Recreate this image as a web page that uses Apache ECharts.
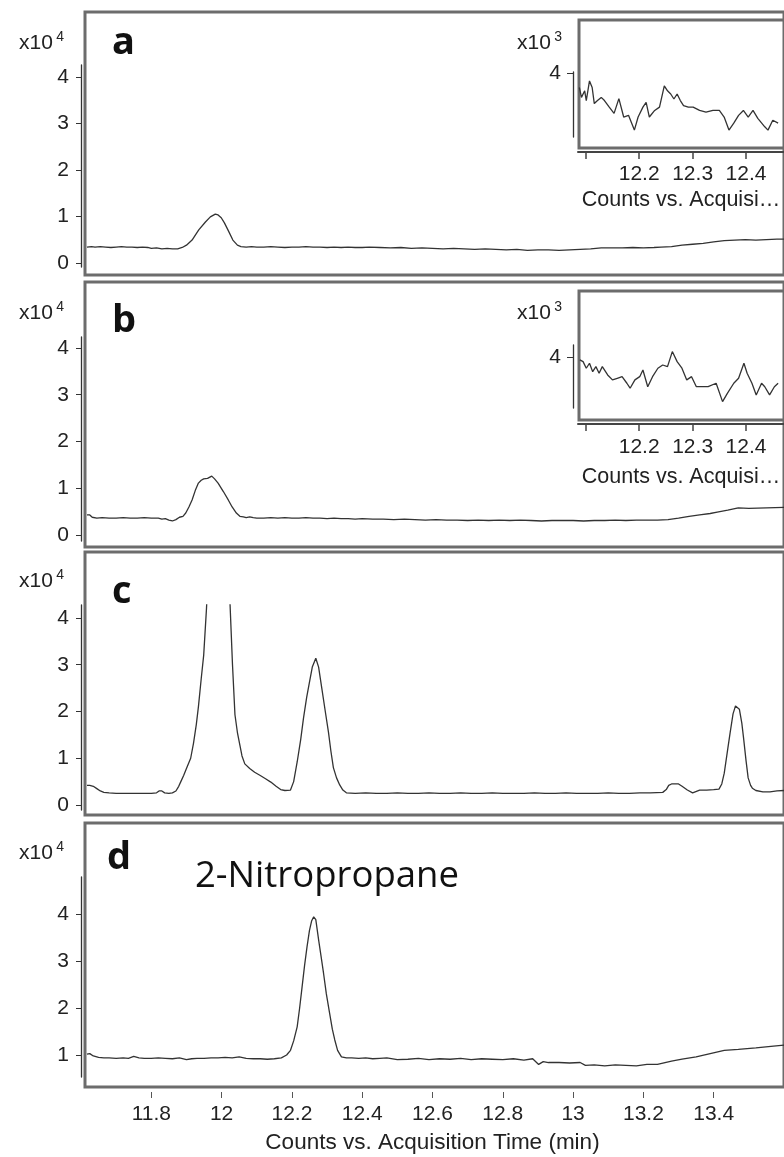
<!DOCTYPE html>
<html><head><meta charset="utf-8">
<script src="https://cdn.jsdelivr.net/npm/echarts@6/dist/echarts.min.js"></script>
<style>html,body{margin:0;padding:0;background:#fff}#c{width:784px;height:1157px}</style>
</head><body><div id="c"></div>
<script>
// ---------- data (counts in units of 10^4, inset counts in units of 10^3) ----------
const mainTicks = [11.8, 12, 12.2, 12.4, 12.6, 12.8, 13, 13.2, 13.4];
const yTicks = [0, 1, 2, 3, 4];
const yTicksD = [1, 2, 3, 4];
const insetTicks = [12.1, 12.2, 12.3, 12.4];
const insetLabels = [12.2, 12.3, 12.4];
const insetYTicks = [4];
const panelLetters = ['a', 'b', 'c', 'd'];
const compoundName = '2-Nitropropane';
const xTitle = 'Counts vs. Acquisition Time (min)';
const insetXTitle = 'Counts vs. Acquisi…';

const timeA = [11.617,11.63,11.64,11.655,11.67,11.685,11.70,11.715,11.73,11.745,11.76,11.775,11.79,11.80,11.815,11.83,11.845,11.86,11.875,11.888,11.90,11.916,11.935,11.954,11.968,11.982,11.99,11.999,12.008,12.018,12.032,12.045,12.055,12.07,12.085,12.10,12.12,12.14,12.16,12.18,12.20,12.22,12.24,12.26,12.28,12.30,12.32,12.34,12.36,12.38,12.40,12.42,12.45,12.48,12.51,12.54,12.57,12.60,12.63,12.66,12.69,12.72,12.75,12.78,12.81,12.84,12.87,12.90,12.93,12.96,12.99,13.02,13.05,13.08,13.11,13.14,13.17,13.20,13.23,13.25,13.28,13.31,13.34,13.37,13.40,13.43,13.46,13.49,13.52,13.55,13.58,13.60];
const countA = [0.34,0.35,0.34,0.35,0.34,0.33,0.34,0.35,0.34,0.34,0.33,0.34,0.33,0.31,0.32,0.30,0.31,0.30,0.30,0.33,0.38,0.49,0.71,0.88,0.99,1.05,1.03,0.97,0.86,0.71,0.49,0.38,0.35,0.34,0.35,0.34,0.34,0.35,0.34,0.33,0.34,0.34,0.35,0.34,0.34,0.33,0.34,0.33,0.34,0.33,0.33,0.34,0.33,0.32,0.33,0.31,0.32,0.31,0.30,0.31,0.30,0.29,0.30,0.29,0.28,0.29,0.27,0.28,0.28,0.27,0.28,0.29,0.30,0.32,0.32,0.32,0.33,0.32,0.33,0.34,0.35,0.38,0.40,0.42,0.45,0.48,0.49,0.50,0.49,0.50,0.51,0.51];

const timeB = [11.617,11.625,11.632,11.645,11.66,11.68,11.70,11.72,11.74,11.76,11.78,11.80,11.82,11.83,11.84,11.85,11.86,11.87,11.88,11.89,11.898,11.907,11.916,11.925,11.934,11.942,11.949,11.96,11.972,11.98,11.99,12.005,12.019,12.03,12.042,12.052,12.062,12.07,12.08,12.09,12.10,12.12,12.14,12.16,12.18,12.20,12.22,12.24,12.26,12.28,12.30,12.32,12.34,12.36,12.38,12.40,12.43,12.46,12.49,12.52,12.55,12.58,12.61,12.64,12.67,12.70,12.73,12.76,12.79,12.82,12.85,12.88,12.91,12.94,12.97,13.00,13.03,13.06,13.09,13.12,13.15,13.18,13.21,13.24,13.27,13.30,13.33,13.36,13.39,13.41,13.44,13.47,13.50,13.55,13.60];
const countB = [0.43,0.43,0.38,0.36,0.37,0.36,0.36,0.37,0.36,0.36,0.37,0.36,0.36,0.34,0.35,0.32,0.30,0.33,0.38,0.40,0.47,0.60,0.75,0.95,1.11,1.17,1.20,1.21,1.26,1.20,1.11,0.93,0.75,0.60,0.47,0.40,0.39,0.37,0.39,0.37,0.36,0.36,0.37,0.36,0.37,0.36,0.36,0.37,0.36,0.36,0.35,0.36,0.35,0.35,0.34,0.35,0.34,0.34,0.33,0.34,0.33,0.32,0.33,0.32,0.32,0.31,0.32,0.31,0.32,0.31,0.32,0.31,0.30,0.31,0.31,0.31,0.30,0.31,0.31,0.32,0.31,0.32,0.32,0.32,0.33,0.36,0.40,0.43,0.46,0.49,0.53,0.58,0.57,0.58,0.59];

const timeC = [11.617,11.625,11.635,11.645,11.655,11.665,11.68,11.70,11.72,11.74,11.76,11.78,11.80,11.815,11.822,11.83,11.838,11.85,11.86,11.87,11.878,11.884,11.892,11.90,11.912,11.92,11.928,11.934,11.942,11.949,11.957,11.965,11.98,11.995,12.01,12.024,12.031,12.038,12.045,12.052,12.058,12.066,12.08,12.094,12.11,12.125,12.14,12.155,12.168,12.18,12.196,12.205,12.215,12.225,12.233,12.242,12.25,12.258,12.268,12.276,12.285,12.295,12.304,12.311,12.318,12.327,12.336,12.345,12.355,12.38,12.41,12.44,12.47,12.50,12.53,12.56,12.59,12.62,12.65,12.68,12.71,12.74,12.77,12.80,12.83,12.86,12.89,12.92,12.95,12.98,13.01,13.04,13.07,13.10,13.13,13.16,13.19,13.22,13.255,13.265,13.272,13.28,13.30,13.31,13.325,13.34,13.345,13.36,13.38,13.40,13.415,13.423,13.43,13.44,13.447,13.455,13.462,13.467,13.473,13.48,13.485,13.492,13.498,13.505,13.51,13.52,13.54,13.56,13.58,13.60];
const countC = [0.42,0.42,0.40,0.35,0.30,0.27,0.26,0.25,0.25,0.25,0.25,0.25,0.25,0.26,0.30,0.30,0.26,0.25,0.26,0.30,0.40,0.50,0.63,0.78,1.00,1.32,1.72,2.10,2.70,3.20,4.20,5.50,6.50,6.60,5.80,4.30,3.00,1.93,1.55,1.28,1.05,0.88,0.78,0.70,0.63,0.56,0.49,0.40,0.33,0.31,0.32,0.50,0.92,1.40,1.86,2.30,2.63,2.95,3.14,2.95,2.50,2.00,1.56,1.15,0.80,0.58,0.43,0.32,0.26,0.25,0.26,0.25,0.25,0.26,0.25,0.25,0.26,0.25,0.25,0.26,0.25,0.25,0.26,0.25,0.25,0.25,0.26,0.25,0.25,0.26,0.25,0.25,0.25,0.26,0.25,0.25,0.26,0.26,0.27,0.33,0.42,0.45,0.45,0.40,0.32,0.26,0.30,0.32,0.32,0.33,0.34,0.45,0.68,1.20,1.56,1.95,2.12,2.14,2.05,1.75,1.43,0.95,0.58,0.42,0.36,0.31,0.28,0.28,0.30,0.31];

const timeD = [11.617,11.625,11.635,11.65,11.665,11.68,11.70,11.72,11.735,11.75,11.765,11.78,11.80,11.82,11.84,11.86,11.88,11.90,11.915,11.93,11.95,11.97,11.99,12.01,12.03,12.05,12.07,12.09,12.11,12.13,12.15,12.17,12.185,12.196,12.205,12.215,12.222,12.229,12.236,12.243,12.25,12.256,12.262,12.268,12.276,12.283,12.29,12.298,12.307,12.315,12.322,12.33,12.341,12.355,12.37,12.39,12.41,12.43,12.45,12.47,12.50,12.53,12.56,12.59,12.62,12.65,12.68,12.71,12.74,12.77,12.80,12.83,12.86,12.885,12.902,12.915,12.93,12.96,12.99,13.02,13.035,13.06,13.09,13.12,13.15,13.18,13.21,13.24,13.28,13.31,13.35,13.39,13.43,13.47,13.52,13.57,13.60];
const countD = [1.02,1.03,0.98,0.95,0.94,0.94,0.93,0.94,0.93,0.97,0.94,0.93,0.93,0.94,0.93,0.92,0.94,0.90,0.92,0.93,0.93,0.94,0.94,0.95,0.94,0.96,0.93,0.92,0.92,0.91,0.92,0.94,1.00,1.10,1.30,1.60,2.00,2.45,2.90,3.30,3.65,3.85,3.94,3.88,3.45,3.10,2.74,2.30,1.90,1.55,1.32,1.10,0.96,0.94,0.94,0.93,0.94,0.92,0.93,0.94,0.90,0.91,0.93,0.90,0.92,0.91,0.93,0.90,0.92,0.91,0.90,0.92,0.89,0.92,0.80,0.86,0.84,0.84,0.83,0.84,0.78,0.79,0.77,0.79,0.78,0.77,0.80,0.80,0.87,0.91,0.96,1.03,1.10,1.12,1.15,1.19,1.21];

const insetTimeA = [12.088,12.092,12.098,12.101,12.107,12.112,12.116,12.122,12.129,12.135,12.144,12.153,12.162,12.171,12.180,12.191,12.198,12.207,12.213,12.219,12.229,12.238,12.247,12.253,12.259,12.265,12.271,12.277,12.283,12.292,12.301,12.313,12.325,12.338,12.350,12.359,12.368,12.377,12.386,12.395,12.404,12.413,12.422,12.435,12.441,12.450,12.460];
const insetCountA = [3.864,3.771,3.833,3.741,3.926,3.864,3.713,3.741,3.771,3.741,3.679,3.620,3.759,3.586,3.602,3.463,3.586,3.679,3.725,3.586,3.648,3.679,3.880,3.833,3.803,3.756,3.803,3.741,3.694,3.679,3.679,3.648,3.632,3.648,3.648,3.586,3.463,3.528,3.602,3.648,3.586,3.648,3.574,3.494,3.463,3.556,3.528];

const insetTimeB = [12.089,12.095,12.101,12.107,12.113,12.119,12.125,12.131,12.141,12.150,12.159,12.168,12.177,12.183,12.192,12.201,12.207,12.216,12.225,12.235,12.244,12.253,12.262,12.271,12.280,12.289,12.298,12.307,12.316,12.329,12.344,12.356,12.365,12.377,12.386,12.396,12.402,12.411,12.419,12.429,12.435,12.444,12.453,12.460];
const insetCountB = [3.979,3.963,3.902,3.948,3.870,3.917,3.856,3.917,3.840,3.794,3.809,3.824,3.763,3.717,3.794,3.824,3.886,3.731,3.824,3.902,3.932,3.917,4.056,3.963,3.902,3.794,3.824,3.731,3.731,3.731,3.763,3.593,3.670,3.763,3.809,3.948,3.856,3.763,3.655,3.763,3.731,3.655,3.731,3.763];

// ---------- layout / style ----------
const FONT = '"Liberation Sans", Arial, sans-serif';
const TXT = '#222';
const LINE = '#333';
const FRAME = '#6c6c6c';
const zip = (t, v) => t.map((x, i) => [x, v[i]]);

const mainFrames = [{top: 12, height: 263}, {top: 282, height: 265}, {top: 552, height: 263}, {top: 823, height: 264}];
const mainData = [
  {top: 65, height: 202, min: -0.09, max: 4.26, gap: 11, ticks: yTicks},
  {top: 337, height: 204, min: -0.128, max: 4.235, gap: 13, ticks: yTicks},
  {top: 605, height: 205, min: -0.107, max: 4.278, gap: 13, ticks: yTicks},
  {top: 877, height: 200, min: 0.532, max: 4.787, gap: 13, ticks: yTicksD}
];
const insetFrames = [{top: 20, height: 128}, {top: 291, height: 129}];
const insetData = [
  {top: 72, height: 65, min: 3.398, max: 4.01, xoff: 15, gap: 18, labelMargin: 12, nameGap: 37},
  {top: 345, height: 63, min: 3.534, max: 4.117, xoff: 16, gap: 21, labelMargin: 13, nameGap: 42}
];
const mainSeries = [zip(timeA, countA), zip(timeB, countB), zip(timeC, countC), zip(timeD, countD)];
const insetSeries = [zip(insetTimeA, insetCountA), zip(insetTimeB, insetCountB)];

const grids = [], xAxes = [], yAxes = [], series = [];
const hiddenAxis = (g) => ({gridIndex: g, type: 'value', show: false, min: 0, max: 1});
const richName = (exp) => ({
  name: '{b|x10} {s|' + exp + '}',
  nameLocation: 'end',
  nameTextStyle: {
    align: 'right',
    rich: {
      b: {fontSize: 21, fontFamily: FONT, color: TXT, lineHeight: 24, verticalAlign: 'bottom'},
      s: {fontSize: 14, fontFamily: FONT, color: TXT, lineHeight: 24, verticalAlign: 'top'}
    }
  }
});

// frames (main)
mainFrames.forEach((f) => {
  const g = grids.length;
  grids.push({left: 85, right: -10, top: f.top, height: f.height, show: true,
    borderColor: FRAME, borderWidth: 3, backgroundColor: 'transparent'});
  xAxes.push(hiddenAxis(g)); yAxes.push(hiddenAxis(g));
});
// frames (insets)
insetFrames.forEach((f) => {
  const g = grids.length;
  grids.push({left: 579, right: -10, top: f.top, height: f.height, show: true,
    borderColor: FRAME, borderWidth: 3, backgroundColor: '#fff'});
  xAxes.push(hiddenAxis(g)); yAxes.push(hiddenAxis(g));
});
// main data grids
mainData.forEach((d, i) => {
  const g = grids.length;
  grids.push({left: 81, right: -10, top: d.top, height: d.height});
  const isLast = i === mainData.length - 1;
  xAxes.push({
    gridIndex: g, type: 'value', min: 11.6, max: 13.6, show: isLast,
    position: 'bottom', offset: 15,
    axisLine: {show: false, onZero: false},
    axisTick: {show: true, length: 6, customValues: mainTicks, lineStyle: {color: '#555', width: 1}},
    axisLabel: {customValues: mainTicks, margin: 12, fontSize: 21, color: TXT, fontFamily: FONT},
    splitLine: {show: false},
    name: xTitle, nameLocation: 'middle', nameGap: 39,
    nameTextStyle: {fontSize: 22.5, color: TXT, fontFamily: FONT}
  });
  const rn = richName(4);
  rn.nameTextStyle.padding = [0, 17, 0, 0];
  yAxes.push(Object.assign({
    gridIndex: g, type: 'value', min: d.min, max: d.max, position: 'left', offset: 0,
    axisLine: {show: true, onZero: false, lineStyle: {color: LINE, width: 1.3}},
    axisTick: {show: true, length: 5, customValues: d.ticks, lineStyle: {color: LINE}},
    axisLabel: {customValues: d.ticks, margin: 12, fontSize: 21, color: TXT, fontFamily: FONT},
    splitLine: {show: false}, nameGap: d.gap
  }, rn));
  series.push({type: 'line', xAxisIndex: g, yAxisIndex: g, data: mainSeries[i], showSymbol: false,
    clip: true, lineStyle: {color: LINE, width: 1.3}, z: 3});
});
// inset data grids
insetData.forEach((d, i) => {
  const g = grids.length;
  grids.push({left: 578, right: -6, top: d.top, height: d.height});
  xAxes.push({
    gridIndex: g, type: 'value', min: 12.0855, max: 12.471, position: 'bottom', offset: d.xoff,
    axisLine: {show: true, onZero: false, lineStyle: {color: '#444', width: 2}},
    axisTick: {show: true, length: 7, customValues: insetTicks, lineStyle: {color: '#444', width: 1.5}},
    axisLabel: {customValues: insetLabels, margin: d.labelMargin, fontSize: 21, color: TXT, fontFamily: FONT},
    splitLine: {show: false},
    name: insetXTitle, nameLocation: 'middle', nameGap: d.nameGap,
    nameTextStyle: {fontSize: 21.5, color: TXT, fontFamily: FONT}
  });
  const rn = richName(3);
  rn.nameTextStyle.padding = [0, 11, 0, 0];
  yAxes.push(Object.assign({
    gridIndex: g, type: 'value', min: d.min, max: d.max, position: 'left', offset: 5,
    axisLine: {show: true, onZero: false, lineStyle: {color: LINE, width: 1.3}},
    axisTick: {show: true, length: 6, customValues: insetYTicks, lineStyle: {color: LINE}},
    axisLabel: {customValues: insetYTicks, margin: 12, fontSize: 21, color: TXT, fontFamily: FONT},
    splitLine: {show: false}, nameGap: d.gap
  }, rn));
  series.push({type: 'line', xAxisIndex: g, yAxisIndex: g, data: insetSeries[i], showSymbol: false,
    clip: true, lineStyle: {color: LINE, width: 1.3}, z: 5});
});

const letterPos = [{left: 112, top: 24}, {left: 112, top: 302}, {left: 112, top: 573}, {left: 107, top: 839}];
const graphic = panelLetters.map((t, i) => ({
  type: 'text', left: letterPos[i].left, top: letterPos[i].top, z: 10,
  style: {text: t, font: 'bold 38px "Open Sans", "Noto Sans", sans-serif', fill: '#111'}
}));
graphic.push({type: 'text', left: 195, top: 858, z: 10,
  style: {text: compoundName, font: '36.5px "Open Sans", "Noto Sans", sans-serif', fill: '#111'}});

const chart = echarts.init(document.getElementById('c'), null, {renderer: 'canvas'});
chart.setOption({
  animation: false,
  backgroundColor: '#fff',
  textStyle: {fontFamily: FONT},
  grid: grids, xAxis: xAxes, yAxis: yAxes, series: series, graphic: graphic
});
</script></body></html>
